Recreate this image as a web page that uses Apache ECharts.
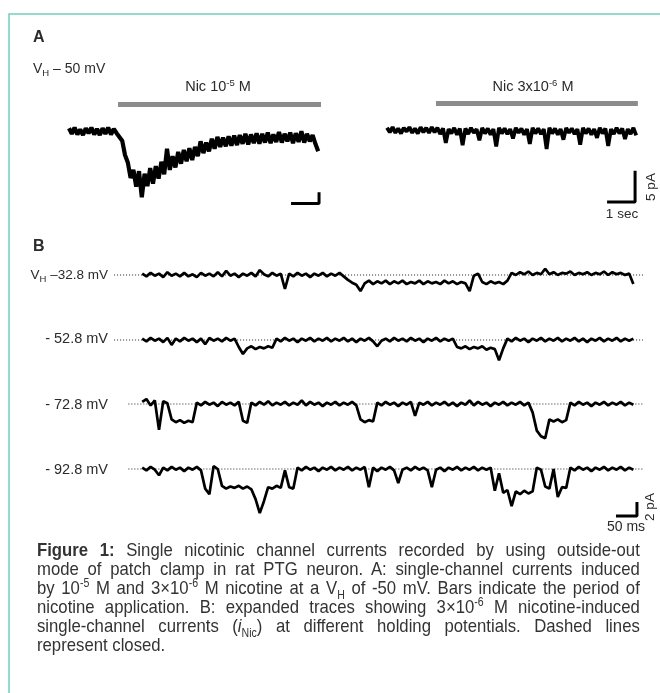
<!DOCTYPE html>
<html>
<head>
<meta charset="utf-8">
<script src="https://cdn.jsdelivr.net/npm/echarts/dist/echarts.min.js"></script>
<style>
body{margin:0;background:#fff;}
#echar{position:absolute;left:0;top:0;width:660px;height:693px;}
#caption{position:absolute;left:37px;top:540px;width:685px;transform:scaleX(0.88);transform-origin:0 0;font-family:'Liberation Sans',Arial,sans-serif;font-size:19px;line-height:19.1px;color:#333;}
#caption .ln{text-align:justify;text-align-last:justify;}
#caption .last{text-align:left;}
#caption sup,#caption sub{font-size:12px;line-height:0;}
</style>
</head>
<body>
<div id="echar"></div>
<div id="caption">
<div class="ln"><b>Figure 1:</b> Single nicotinic channel currents recorded by using outside-out</div>
<div class="ln">mode of patch clamp in rat PTG neuron. A: single-channel currents induced</div>
<div class="ln">by 10<sup>-5</sup> M and 3×10<sup>-6</sup> M nicotine at a V<sub>H</sub> of -50 mV. Bars indicate the period of</div>
<div class="ln">nicotine application. B: expanded traces showing 3×10<sup>-6</sup> M nicotine-induced</div>
<div class="ln">single-channel currents (<i>i</i><sub>Nic</sub>) at different holding potentials. Dashed lines</div>
<div class="last">represent closed.</div>
</div>
<script>
// panel A: 0.1 s per sample, values in pA
var stepA = 0.1;
var traceA1 = [0.5,-0.4,0.6,-0.5,0.3,-0.6,0.5,-0.3,0.6,-0.5,
	0.4,-0.6,0.5,-0.4,0.6,-0.5,0.4,-0.3,-0.9,-1.5,
	-3.8,-5.0,-7.5,-6.2,-8.9,-6.4,-10.6,-6.8,-8.8,-5.9,
	-8.4,-5.6,-7.6,-4.9,-6.9,-2.8,-6.2,-4.0,-5.8,-3.3,
	-5.2,-3.0,-4.8,-2.7,-4.6,-2.5,-4.0,-1.6,-3.5,-1.8,
	-3.2,-1.2,-2.8,-0.9,-2.5,-1.0,-2.4,-0.8,-2.3,-0.7,
	-2.2,-0.6,-2.0,-0.4,-2.1,-0.5,-1.9,-0.3,-2.0,-0.4,
	-1.8,-0.2,-1.9,-0.5,-1.7,-0.1,-1.8,-0.4,-1.6,-0.2,
	-1.9,-0.3,-1.7,0.0,-1.8,-0.4,-1.6,-0.6,-2.0,-3.2];
var traceA2 = [0.4,-0.3,0.5,-0.4,0.3,-0.5,0.4,-0.2,0.5,-0.4,
	0.3,-0.5,0.5,-0.3,0.4,-0.4,0.5,-0.3,
	0.4,-0.6,0.3,-2.0,0.2,-0.5,0.4,-0.7,0.3,-2.4,
	0.3,-0.6,0.4,-0.4,0.2,-1.6,0.4,-0.5,0.3,-0.7,
	0.2,-2.6,0.4,-0.5,0.3,-0.6,0.2,-1.3,0.4,-0.4,
	0.3,-0.7,0.2,-2.2,0.4,-0.5,0.3,-0.6,0.2,-3.0,
	0.4,-0.5,0.3,-0.7,0.2,-1.5,0.4,-0.4,0.3,-0.6,
	0.2,-2.3,0.4,-0.5,0.3,-0.7,0.2,-1.2,0.4,-0.5,
	0.3,-2.5,0.2,-0.6,0.4,-0.5,0.3,-1.4,0.2,-0.6,
	0.4,-0.8];
var drugA1 = [1.75, 9.0];
var drugA2 = [1.75, 8.96];
var drugLevel = 4.3;
var drugLabels = ['{a|Nic 10}{p|-5}{a| M}', '{a|Nic 3x10}{p|-6}{a| M}'];

// panel B: 10 ms per sample, values in pA
var stepB = 10;
var traceB1 = [0.2,-0.2,0.3,-0.1,0.2,-0.3,0.4,-0.1,0.2,-0.2,
	0.3,-0.2,0.1,-0.3,0.3,-0.1,0.2,-0.2,0.4,-0.2,
	0.6,-0.1,0.2,-0.3,0.2,-0.1,0.3,-0.2,0.7,0.1,
	-0.2,0.3,-0.1,0.2,-2.0,0.2,-0.2,0.3,-0.1,0.2,
	-0.3,0.2,-0.1,0.3,-0.2,0.2,-0.1,0.3,-0.2,
	-0.7,-1.1,-1.4,-2.3,-1.2,-0.8,-1.3,-0.9,-1.2,-0.8,-1.3,
	-0.9,-1.2,-0.8,-1.3,-1.0,-1.2,-0.8,-1.3,-0.9,-1.2,-1.0,-1.3,-0.8,-1.2,-0.9,-1.3,-1.0,-1.2,
	-2.3,-0.1,0.2,-1.0,-1.3,-0.9,-1.2,-1.0,-1.3,-0.8,
	0.3,0.0,0.4,0.1,0.5,0.0,0.3,0.1,0.9,0.1,
	0.4,0.0,0.3,0.2,0.5,0.0,0.3,0.1,0.4,0.0,
	0.3,0.1,0.5,0.0,0.4,0.1,0.3,0.0,0.2,-1.3];
var traceB2 = [0.2,-0.2,0.3,-0.1,0.2,-0.3,0.3,-0.7,0.2,-0.2,
	0.3,-0.1,0.2,-0.3,0.2,-0.6,0.3,-0.1,0.2,-0.2,
	0.3,-0.1,0.2,
	-1.0,-2.0,-1.2,-0.9,-1.3,-1.0,-1.2,-0.9,-1.1,
	0.2,-0.2,0.3,-0.1,0.2,-0.3,0.2,-0.1,0.3,-0.2,
	0.2,-0.1,0.3,-0.2,0.2,-0.1,0.3,-0.2,0.2,-0.3,
	0.2,-0.1,0.3,-0.2,-0.9,-0.1,0.2,-0.2,0.3,-0.1,
	0.2,-0.2,0.3,-0.1,0.2,-0.3,0.2,-0.1,0.3,-0.2,
	0.2,-0.1,0.2,
	-1.0,-1.2,-0.9,-1.3,-1.0,-1.2,-0.9,-1.4,-1.1,-1.3,-2.9,-1.2,
	0.2,-0.2,0.3,-0.1,0.2,-0.3,0.2,-0.1,0.3,-0.2,
	0.2,-0.1,0.3,-0.2,0.2,-0.1,0.3,-0.2,0.2,-0.3,
	0.2,-0.1,0.3,-0.2,0.2,-0.1,0.3,-0.2,0.2,-0.1,
	0.2];
var traceB3 = [0.3,0.7,-0.2,0.5,-3.7,0.4,0.1,
	-2.2,-2.6,-2.3,-2.7,-2.4,-2.6,
	0.2,-0.2,0.3,-0.1,0.2,-0.3,0.3,-0.1,0.2,-0.2,0.3,
	-2.4,-2.7,
	0.2,-0.2,0.3,-0.1,0.4,-0.2,0.2,-0.1,0.3,-0.2,
	0.2,-0.1,0.5,-0.2,0.3,-0.1,0.2,-0.3,0.2,-0.1,
	0.3,-0.2,0.2,-0.1,0.3,-0.2,
	-2.2,-2.6,-2.3,-2.5,
	0.2,-0.2,0.3,-0.1,0.2,-0.3,0.2,-0.1,0.3,-1.7,
	0.2,-0.1,0.3,-0.2,0.2,-0.1,0.3,-0.2,0.2,-0.3,
	0.2,-0.1,0.5,-0.2,0.3,-0.1,0.2,-0.3,0.2,-0.1,
	0.3,-0.2,0.2,-0.1,0.3,-0.2,0.2,
	-1.2,-3.8,-4.6,-4.9,-2.2,-2.5,-2.2,-2.6,-2.3,
	0.2,-0.2,0.3,-0.1,0.2,-0.3,0.2,-0.1,0.3,-0.2,
	0.2,-0.1,0.3,-0.2,0.2,-0.1];
var traceB4 = [0.2,-0.2,0.3,-0.1,-0.9,0.2,-0.2,0.3,-0.1,0.2,-0.3,0.2,-0.1,0.3,-0.2,
	-2.8,-3.6,
	0.4,0.0,
	-2.4,-2.8,-2.5,-2.7,-2.4,-2.8,-2.5,-2.9,-4.3,-6.3,-4.6,-2.6,-2.8,-2.4,-2.7,-0.2,-2.6,-2.8,
	0.2,-0.2,0.3,-0.1,0.2,-0.3,0.2,-0.1,0.3,-0.2,
	0.2,-0.1,0.3,-0.2,0.2,-0.1,0.3,-2.6,0.2,-0.3,
	0.2,-0.1,0.3,-0.2,-2.0,-0.1,0.2,-0.2,0.3,-0.1,
	0.2,-0.2,-2.6,-0.1,0.2,-0.3,0.2,-0.1,0.3,-0.2,
	0.2,-0.1,0.3,-0.2,0.2,-0.1,0.2,
	-3.1,-0.6,-3.4,-3.0,-5.3,-3.2,-3.6,-3.1,-3.5,-3.2,
	0.2,-0.1,
	-2.5,-2.8,0.0,-4.0,-2.6,-2.7,
	0.2,-0.2,0.3,-0.1,0.2,-0.3,0.2,-0.1,0.3,-0.2,
	0.2,-0.1,0.3,-0.2,0.2,-0.1];
var holdingLabels = ['{a|V}{s|H}{a| –32.8 mV}', '- 52.8 mV', '- 72.8 mV', '- 92.8 mV'];
var dotStartB = [-67, -67, -33, -33];

// scale bars (time, pA)
var scaleA_t = [7.86, 8.86];
var scaleA_pA = [-11.5, -6.5];
var smallBarA_t = [7.93, 8.93];
var smallBarA_pA = [-11.6, -9.8];
var scaleB_t = [1128.6, 1178.6];
var scaleB_pA = [-6.7, -4.7];

var FONT = "'Liberation Sans', Arial, sans-serif";
var TXT = '#2b2b2b';

function pairs(arr, step) {
	return arr.map(function (v, i) { return [+(i * step).toFixed(3), v]; });
}

// 基于准备好的dom，初始化echarts实例
var myChart = echarts.init(document.getElementById('echar'));

var grids = [
	{left: 69, top: 94, width: 252, height: 112},
	{left: 387, top: 93, width: 252, height: 112},
	{left: 112, top: 261, width: 531, height: 56},
	{left: 112, top: 326, width: 531, height: 56},
	{left: 112, top: 390, width: 531, height: 56},
	{left: 112, top: 455, width: 531, height: 63}
];
var xAxes = [], yAxes = [];
grids.forEach(function (g, i) {
	var isA = i < 2;
	xAxes.push({type: 'value', gridIndex: i, show: false, min: isA ? 0 : -72, max: isA ? 9 : 1193});
	yAxes.push({type: 'value', gridIndex: i, show: false, min: isA ? -12 : (i == 5 ? -7 : -6), max: isA ? 6 : 2});
});

function line(gi, data, width, color, type) {
	return {
		type: 'line', xAxisIndex: gi, yAxisIndex: gi, data: data, symbol: 'none',
		silent: true, animation: false,
		lineStyle: {width: width, color: color, type: type || 'solid', cap: 'butt', join: 'bevel'}
	};
}

var series = [];
// Panel A
series.push(line(0, [[drugA1[0], drugLevel], [drugA1[1], drugLevel]], 5, '#8c8c8c'));
series.push(line(1, [[drugA2[0], drugLevel], [drugA2[1], drugLevel]], 5, '#8c8c8c'));
series.push(line(0, pairs(traceA1, stepA), 4.2, '#000'));
series.push(line(1, pairs(traceA2, stepA), 3.8, '#000'));
series.push(line(0, [[smallBarA_t[0], smallBarA_pA[0]], [smallBarA_t[1], smallBarA_pA[0]], [smallBarA_t[1], smallBarA_pA[1]]], 3, '#000'));
series.push(line(1, [[scaleA_t[0], scaleA_pA[0]], [scaleA_t[1], scaleA_pA[0]], [scaleA_t[1], scaleA_pA[1]]], 3, '#000'));
// Panel B
[traceB1, traceB2, traceB3, traceB4].forEach(function (tr, k) {
	series.push(line(k + 2, [[dotStartB[k], 0], [1193, 0]], 1, '#222', [1, 2]));
	series.push(line(k + 2, pairs(tr, stepB), 2.7, '#000'));
});
series.push(line(5, [[scaleB_t[0], scaleB_pA[0]], [scaleB_t[1], scaleB_pA[0]], [scaleB_t[1], scaleB_pA[1]]], 3, '#000'));

function txt(x, y, text, size, opts) {
	opts = opts || {};
	return {
		type: 'text', x: x, y: y, rotation: opts.rotation || 0, silent: true,
		style: {
			text: text, fill: TXT, align: opts.align || 'left', verticalAlign: 'middle',
			font: (opts.bold ? 'bold ' : '') + size + 'px ' + FONT,
			rich: {
				a: {fontSize: size, fontFamily: FONT, fill: TXT, lineHeight: 18},
				s: {fontSize: 9.5, fontFamily: FONT, fill: TXT, lineHeight: 12, verticalAlign: 'bottom'},
				p: {fontSize: 9.5, fontFamily: FONT, fill: TXT, lineHeight: 12, verticalAlign: 'top'}
			}
		}
	};
}

var rowY = [275, 339, 405, 470];
var graphic = [
	{type: 'rect', silent: true, shape: {x: 9, y: 14, width: 700, height: 700},
		style: {fill: 'none', stroke: '#72cfbf', lineWidth: 1.5}},
	txt(33, 38, 'A', 16, {bold: true}),
	txt(33, 69, '{a|V}{s|H}{a| – 50 mV}', 14),
	txt(218, 87, drugLabels[0], 14.5, {align: 'center'}),
	txt(533, 87, drugLabels[1], 14.5, {align: 'center'}),
	txt(622, 214, '1 sec', 13.5, {align: 'center'}),
	txt(651, 187, '5 pA', 13.5, {align: 'center', rotation: Math.PI / 2}),
	txt(33, 247, 'B', 16, {bold: true}),
	txt(626, 527, '50 ms', 14, {align: 'center'}),
	txt(650, 507, '2 pA', 13.5, {align: 'center', rotation: Math.PI / 2})
];
holdingLabels.forEach(function (l, k) {
	graphic.push(txt(108, rowY[k], l.indexOf('{') < 0 ? '{a|' + l + '}' : l, k == 0 ? 13.5 : 14.5, {align: 'right'}));
});

var option = {
	animation: false,
	grid: grids,
	xAxis: xAxes,
	yAxis: yAxes,
	series: series,
	graphic: graphic
};

myChart.setOption(option);
</script>
</body>
</html>
